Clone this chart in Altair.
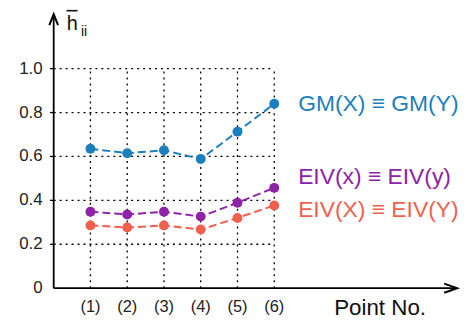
import altair as alt
import pandas as pd

points = [1, 2, 3, 4, 5, 6]
point_labels = ["(1)", "(2)", "(3)", "(4)", "(5)", "(6)"]
gm = [0.635, 0.615, 0.628, 0.588, 0.713, 0.840]
eiv_lower = [0.348, 0.336, 0.348, 0.326, 0.389, 0.457]
eiv_upper = [0.286, 0.276, 0.286, 0.267, 0.320, 0.377]
series_names = ["GM(X) ≡ GM(Y)", "EIV(x) ≡ EIV(y)", "EIV(X) ≡ EIV(Y)"]
series_colors = ["#1b7fbd", "#8e22a8", "#f1604f"]
y_ticks = [0.2, 0.4, 0.6, 0.8, 1.0]
y_tick_labels = ["0", "0.2", "0.4", "0.6", "0.8", "1.0"]

FONT = "Liberation Sans"
xs = alt.Scale(domain=[-1.243, 11.027], nice=False, zero=False)
ys = alt.Scale(domain=[-0.1222, 1.2715], nice=False, zero=False)

def X(f="x"):
    return alt.X(f"{f}:Q", scale=xs, axis=None)

def Y(f="y"):
    return alt.Y(f"{f}:Q", scale=ys, axis=None)

# grid
hgrid = pd.DataFrame({"x": [0] * len(y_ticks), "x2": [6] * len(y_ticks), "y": y_ticks})
vgrid = pd.DataFrame({"x": points, "y": [0] * 6, "y2": [1.0] * 6})
hg = alt.Chart(hgrid).mark_rule(color="black", strokeDash=[2, 4], strokeWidth=1.3).encode(
    x=X(), x2="x2:Q", y=Y())
vg = alt.Chart(vgrid).mark_rule(color="black", strokeDash=[2, 4], strokeWidth=1.3).encode(
    x=X(), y=Y(), y2="y2:Q")

# axes
yaxis = alt.Chart(pd.DataFrame({"x": [0], "y": [0], "y2": [1.245]})).mark_rule(
    color="black", strokeWidth=1.8).encode(x=X(), y=Y(), y2="y2:Q")
xaxis = alt.Chart(pd.DataFrame({"x": [0], "x2": [10.96], "y": [0]})).mark_rule(
    color="black", strokeWidth=1.8).encode(x=X(), x2="x2:Q", y=Y())
yarrow = alt.Chart(pd.DataFrame({"x": [0], "y": [1.2226]})).mark_point(
    shape="M-0.8,1L0,-1L0.8,1", size=121, filled=False, color="black", strokeWidth=2, opacity=1
).encode(x=X(), y=Y())
xarrow = alt.Chart(pd.DataFrame({"x": [10.80], "y": [0]})).mark_point(
    shape="M-1,-0.7L1,0L-1,0.7", size=169, filled=False, color="black", strokeWidth=2, opacity=1
).encode(x=X(), y=Y())
yticks = alt.Chart(pd.DataFrame({"x": [-0.1] * 5, "x2": [0] * 5, "y": y_ticks})).mark_rule(
    color="black", strokeWidth=1.3).encode(x=X(), x2="x2:Q", y=Y())

ylab = alt.Chart(pd.DataFrame({"x": [-0.3] * 6, "y": [0] + y_ticks, "t": y_tick_labels})).mark_text(
    font=FONT, fontSize=17, align="right", baseline="middle", color="#222").encode(
    x=X(), y=Y(), text="t:N")
xlab = alt.Chart(pd.DataFrame({"x": points, "y": [-0.084] * 6, "t": point_labels})).mark_text(
    font=FONT, fontSize=16.5, align="center", baseline="middle", color="#222").encode(
    x=X(), y=Y(), text="t:N")
xtitle = alt.Chart(pd.DataFrame({"x": [8.88], "y": [-0.09], "t": ["Point No."]})).mark_text(
    font=FONT, fontSize=22.5, align="center", baseline="middle", color="#111").encode(
    x=X(), y=Y(), text="t:N")

# y title: h-bar with subscript ii
htxt = alt.Chart(pd.DataFrame({"x": [0.508], "y": [1.176], "t": ["h"]})).mark_text(
    font=FONT, fontSize=20, align="center", baseline="alphabetic", color="#111").encode(
    x=X(), y=Y(), text="t:N")
hsub = alt.Chart(pd.DataFrame({"x": [0.743], "y": [1.149], "t": ["ii"]})).mark_text(
    font=FONT, fontSize=14, align="left", baseline="alphabetic", color="#111").encode(
    x=X(), y=Y(), text="t:N")
hbar = alt.Chart(pd.DataFrame({"x": [0.35], "x2": [0.65], "y": [1.264]})).mark_rule(
    color="#111", strokeWidth=1.6).encode(x=X(), x2="x2:Q", y=Y())

# series
rows = []
for name, vals in zip(series_names, [gm, eiv_lower, eiv_upper]):
    for p, v in zip(points, vals):
        rows.append({"x": p, "y": v, "s": name})
sdf = pd.DataFrame(rows)
cscale = alt.Scale(domain=series_names, range=series_colors)
lines = alt.Chart(sdf).mark_line(strokeDash=[8, 4], strokeWidth=2).encode(
    x=X(), y=Y(), color=alt.Color("s:N", scale=cscale, legend=None), detail="s:N")
dots = alt.Chart(sdf).mark_circle(size=100, opacity=1).encode(
    x=X(), y=Y(), color=alt.Color("s:N", scale=cscale, legend=None))

ldf = pd.DataFrame({"x": [6.65] * 3, "y": [0.837, 0.507, 0.357], "s": series_names})
labels = alt.Chart(ldf).mark_text(font=FONT, fontSize=23, align="left", baseline="middle").encode(
    x=X(), y=Y(), text="s:N", color=alt.Color("s:N", scale=cscale, legend=None))

chart = alt.layer(hg, vg, yticks, yaxis, xaxis, yarrow, xarrow, ylab, xlab, xtitle,
                  htxt, hsub, hbar, lines, dots, labels).properties(
    width=454, height=308, padding=0, background="white"
).configure_view(stroke=None)

chart.save("out.html", embed_options={"renderer": "svg", "actions": False})
